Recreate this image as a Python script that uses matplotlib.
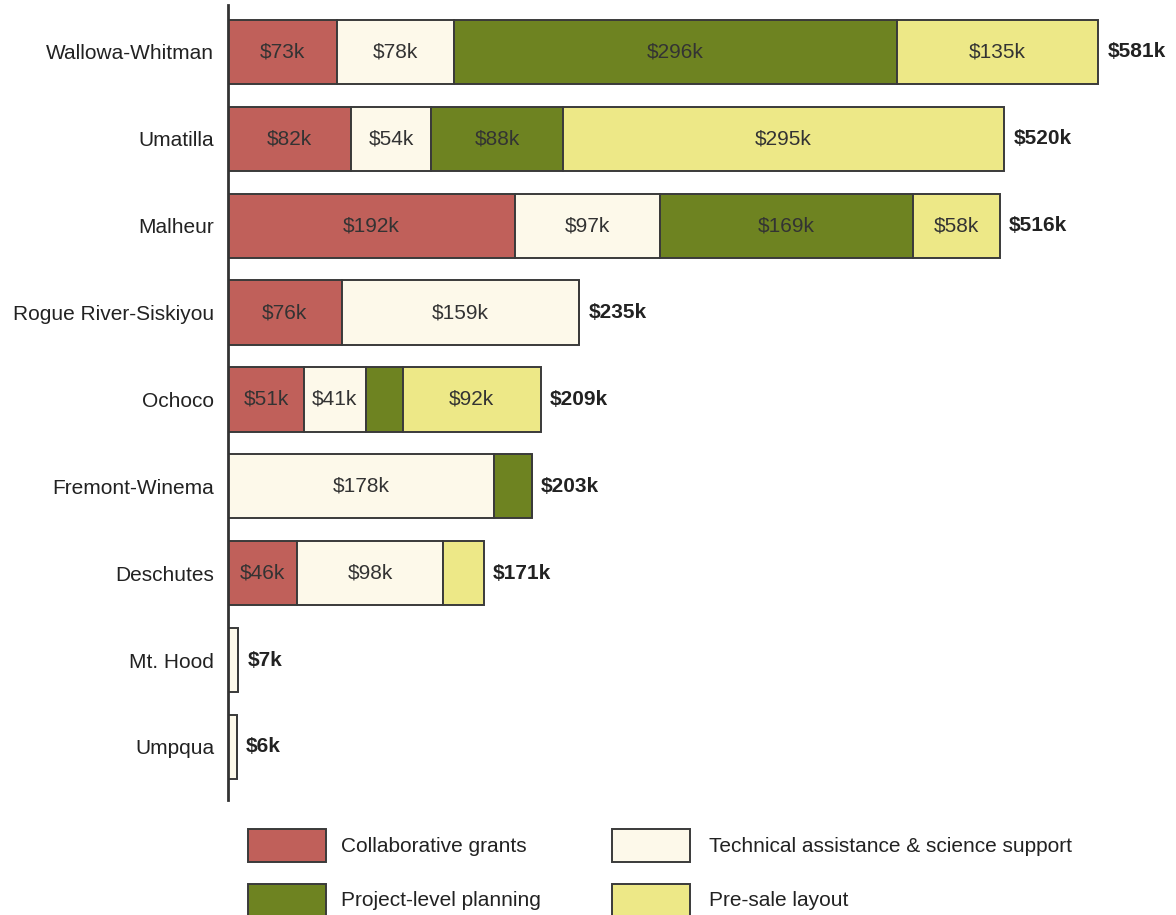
import matplotlib.pyplot as plt
from matplotlib.patches import Rectangle

plt.rcParams['font.family'] = ['Liberation Sans', 'DejaVu Sans']

forests = ["Wallowa-Whitman", "Umatilla", "Malheur", "Rogue River-Siskiyou",
           "Ochoco", "Fremont-Winema", "Deschutes", "Mt. Hood", "Umpqua"]
collab = [73, 82, 192, 76, 51, 0, 46, 0, 0]
tech = [78, 54, 97, 159, 41, 178, 98, 7, 6]
planning = [296, 88, 169, 0, 25, 25, 0, 0, 0]
presale = [135, 295, 58, 0, 92, 0, 27, 0, 0]
totals = [581, 520, 516, 235, 209, 203, 171, 7, 6]

series = [collab, tech, planning, presale]
names = ["Collaborative grants", "Technical assistance & science support",
         "Project-level planning", "Pre-sale layout"]
colors = ["#c0605a", "#fdf9ea", "#6e8321", "#ede887"]
edge = "#3a3a3a"
fs = 15

fig = plt.figure(figsize=(11.76, 9.15), dpi=100)
ax = fig.add_axes([228 / 1176, (915 - 800) / 915, (1176 - 228) / 1176, 795 / 915])

ypos = list(range(len(forests)))
left = [0] * len(forests)
for vals, col in zip(series, colors):
    ax.barh(ypos, vals, left=left, height=0.74, color=col, edgecolor=edge, linewidth=1.4)
    for i, v in enumerate(vals):
        if v >= 40:
            ax.text(left[i] + v / 2, i, f"${v}k", ha="center", va="center",
                    fontsize=fs, color="#333333")
    left = [l + v for l, v in zip(left, vals)]

for i, t in enumerate(totals):
    ax.text(left[i] + 6, i, f"${t}k", ha="left", va="center",
            fontsize=fs, fontweight="bold", color="#222222")

ax.set_xlim(0, 948 / 1.4957)
ax.set_ylim(8.61, -0.54)
ax.set_yticks(ypos)
ax.set_yticklabels(forests, fontsize=fs, color="#222222")
ax.tick_params(axis="y", length=0, pad=10)
ax.set_xticks([])
for s in ["top", "right", "bottom"]:
    ax.spines[s].set_visible(False)
ax.spines["left"].set_linewidth(2)
ax.spines["left"].set_color("#333333")

# legend drawn by hand
W, H = 1176, 915
leg = [(248, 829, 341), (612, 829, 709), (248, 884, 341), (612, 884, 709)]
for k, (x, y, tx) in enumerate(leg):
    fig.patches.append(Rectangle((x / W, 1 - (y + 33) / H), 78 / W, 33 / H,
                                 transform=fig.transFigure, facecolor=colors[k],
                                 edgecolor=edge, linewidth=1.4))
    fig.text(tx / W, 1 - (y + 17) / H, names[k], ha="left", va="center",
             fontsize=fs, color="#222222")

plt.savefig("out.png", dpi=100)
